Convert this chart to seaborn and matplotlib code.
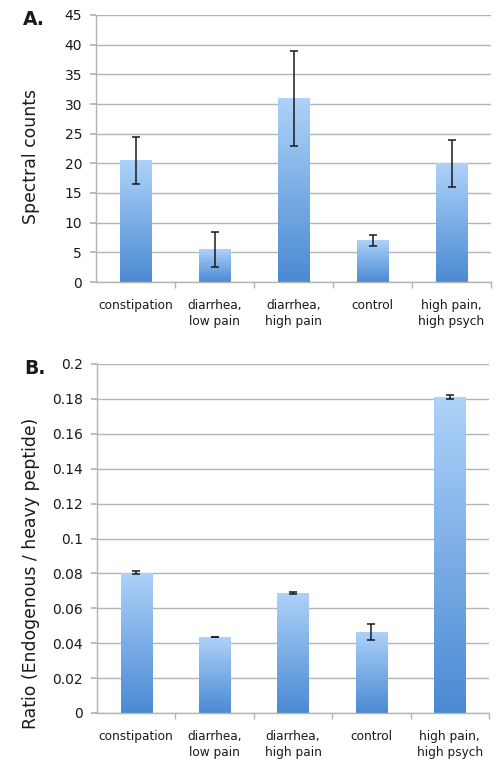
import numpy as np
import seaborn as sns
import matplotlib
matplotlib.use("Agg")
import matplotlib.pyplot as plt
from matplotlib.colors import LinearSegmentedColormap

# data
categories = ["constipation", "diarrhea,\nlow pain", "diarrhea,\nhigh pain", "control", "high pain,\nhigh psych"]
counts = [20.5, 5.5, 31.0, 7.0, 20.0]
counts_err = [4.0, 3.0, 8.0, 1.0, 4.0]
ratios = [0.0805, 0.0435, 0.0688, 0.0465, 0.181]
ratios_err = [0.0009, 0.0002, 0.0007, 0.0047, 0.0012]

sns.set_theme(style="white")
plt.rcParams["font.family"] = ["DejaVu Sans"]

grad_cmap = LinearSegmentedColormap.from_list("bar_grad", ["#4a8ad3", "#aed2f9"])
grid_color = "#b4b4b4"
text_color = "#1a1a1a"
W, H = 502, 776


def gradient_bars(ax):
    # replace flat bar fill by a vertical gradient (dark at bottom, light at top)
    gradient = np.linspace(0, 1, 256).reshape(-1, 1)
    for bar in ax.patches:
        x0, y0 = bar.get_x(), bar.get_y()
        w, h = bar.get_width(), bar.get_height()
        img = ax.imshow(gradient, cmap=grad_cmap, origin="lower", aspect="auto",
                        extent=(x0, x0 + w, y0, y0 + h), zorder=2)
        img.set_clip_path(bar)
        bar.set_facecolor("none")
        bar.set_edgecolor("none")


def draw_panel(ax, values, errors, ymax, ystep, ylabel, label_y, letter, fmt):
    sns.barplot(x=categories, y=values, ax=ax, width=0.4, color="#6fa8e6", zorder=2)
    gradient_bars(ax)
    ax.errorbar(np.arange(len(values)), values, yerr=errors, fmt="none",
                ecolor=text_color, elinewidth=1.1, capsize=3, capthick=1.1, zorder=4)
    ax.set_xlim(-0.5, len(values) - 0.5)
    ax.set_ylim(0, ymax)
    ticks = np.arange(0, ymax + ystep / 2, ystep)
    ax.set_yticks(ticks)
    ax.set_yticklabels([fmt(t) for t in ticks])
    ax.yaxis.grid(True, color=grid_color, linewidth=1.0, zorder=0)
    ax.set_axisbelow(True)
    for side in ["top", "right"]:
        ax.spines[side].set_visible(False)
    for side in ["left", "bottom"]:
        ax.spines[side].set_color(grid_color)
        ax.spines[side].set_linewidth(1.0)
    ax.set_xticks(np.arange(len(values)))
    ax.set_xticklabels(categories, fontsize=8.7, color=text_color, linespacing=1.3)
    ax.set_xticks(np.arange(len(values)) + 0.5, minor=True)
    ax.tick_params(axis="x", which="major", length=0, pad=12)
    ax.tick_params(axis="x", which="minor", length=4, color=grid_color, direction="out", bottom=True)
    ax.tick_params(axis="y", length=4, color=grid_color, direction="out", left=True,
                   labelsize=10, labelcolor=text_color, pad=6)
    ax.set_ylabel(ylabel, fontsize=12.4, color=text_color)
    # both y labels sit at the same distance from the figure edge
    pos = ax.get_position()
    ax.yaxis.set_label_coords((40 / W - pos.x0) / pos.width, label_y)
    ax.set_xlabel("")
    ax.annotate(letter, xy=(-0.185, 1.0), xycoords="axes fraction", xytext=(0, -3),
                textcoords="offset points", fontsize=13.5, fontweight="bold",
                ha="left", va="center", color=text_color)


fig = plt.figure(figsize=(W / 100, H / 100), dpi=100)
ax_a = fig.add_axes([96 / W, 1 - 282 / H, (491 - 96) / W, (282 - 15) / H])
ax_b = fig.add_axes([97 / W, 1 - 713 / H, (489 - 97) / W, (713 - 364) / H])

draw_panel(ax_a, counts, counts_err, 45, 5, "Spectral counts", 0.47, "A.", lambda t: f"{int(t)}")
draw_panel(ax_b, ratios, ratios_err, 0.2, 0.02, "Ratio (Endogenous / heavy peptide)", 0.40, "B.",
           lambda t: "0" if t == 0 else f"{t:.2f}".rstrip("0"))

fig.savefig("out.png", dpi=100)
